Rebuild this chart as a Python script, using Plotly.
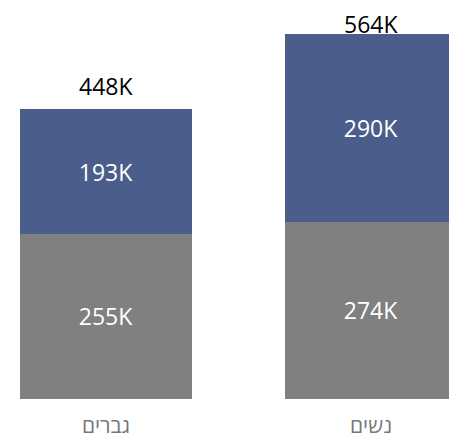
import plotly.graph_objects as go

categories = ["גברים", "נשים"]
gray_values = [255, 274]
blue_values = [193, 290]
totals = [g + b for g, b in zip(gray_values, blue_values)]

W, H = 475, 439          # figure a bit wider than the window so the 2nd bar runs off the edge
PX_PER_CAT = 265
MT, MB = 34, 37
plot_h = H - MT - MB
ymax = max(totals)
scale = plot_h / ymax
BOX_H = 32
TOP_PAD = 10

FONT = "Segoe UI, Open Sans, DejaVu Sans, sans-serif"

fig = go.Figure()
fig.add_trace(go.Bar(
    x=categories, y=gray_values, marker_color="#808080",
    text=[f"{v}K" for v in gray_values], textposition="inside",
    insidetextanchor="middle", textfont=dict(color="white", size=23, family=FONT),
    hoverinfo="skip", width=0.65, marker_line_width=0,
))
fig.add_trace(go.Bar(
    x=categories, y=blue_values, marker_color="#4B5D8A",
    text=[f"{v}K" for v in blue_values], textposition="inside",
    insidetextanchor="middle", textfont=dict(color="white", size=23, family=FONT),
    hoverinfo="skip", width=0.65, marker_line_width=0,
))

for c, t in zip(categories, totals):
    bar_top = MT + (ymax - t) * scale
    fig.add_annotation(
        x=c, y=t, text=f"{t}K", showarrow=False, yanchor="bottom",
        yshift=min(5, bar_top - BOX_H - TOP_PAD),
        font=dict(color="black", size=23, family=FONT),
    )

fig.update_layout(
    barmode="stack", width=W, height=H, showlegend=False,
    margin=dict(l=0, r=0, t=MT, b=MB),
    plot_bgcolor="white", paper_bgcolor="white",
    xaxis=dict(range=[-106 / PX_PER_CAT, -106 / PX_PER_CAT + W / PX_PER_CAT],
               showgrid=False, zeroline=False,
               showline=False, ticks="", ticklabelstandoff=12,
               tickfont=dict(color="#777777", size=21, family=FONT)),
    yaxis=dict(range=[0, ymax], visible=False),
)

fig.write_html(
    "out.html",
    config={"displayModeBar": False},
    post_script=(
        "document.documentElement.style.margin='0';"
        "document.documentElement.style.overflow='hidden';"
        "document.body.style.margin='0';"
        "document.body.style.overflow='hidden';"
    ),
)
